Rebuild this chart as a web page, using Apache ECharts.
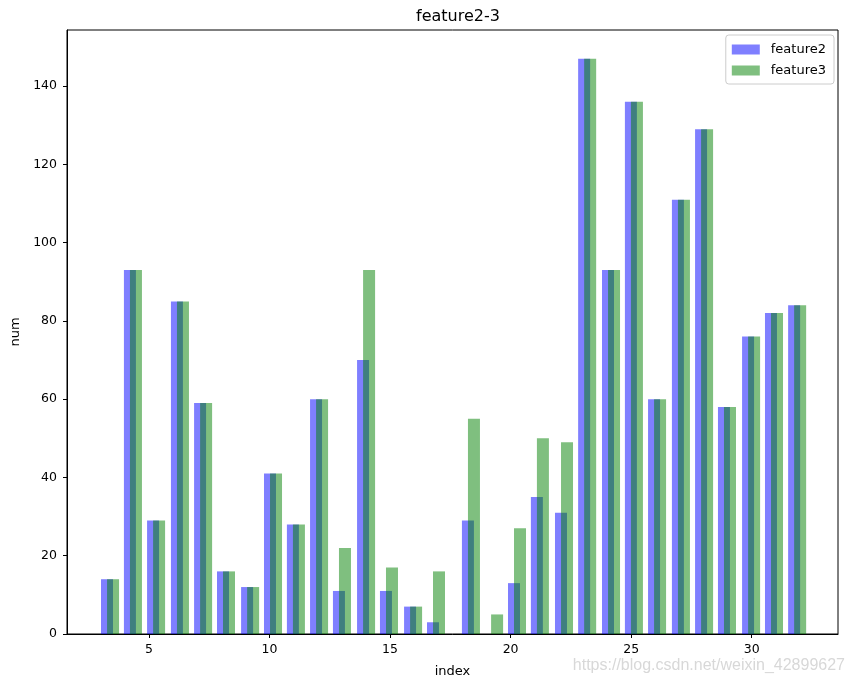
<!DOCTYPE html>
<html>
<head>
<meta charset="utf-8">
<script src="https://cdn.jsdelivr.net/npm/echarts@6/dist/echarts.min.js"></script>
<style>
html,body{margin:0;padding:0;background:#fff;}
#c{width:854px;height:687px;}
</style>
</head>
<body>
<div id="c"></div>
<script>
// index labels (row index) for each pair of bars
const indexLabels = [3,4,5,6,7,8,9,10,11,12,13,14,15,16,17,18,19,20,21,22,23,24,25,26,27,28,29,30,31,32];
// x position (data units) of each feature2 bar centre
const xPos = [3.26,4.21,5.17,6.16,7.12,8.07,9.07,10.02,10.97,11.93,12.88,13.88,14.83,15.83,16.78,18.23,19.19,20.14,21.09,22.09,23.05,24.04,24.99,25.95,26.94,27.90,28.85,29.85,30.80,31.76];
const feature2 = [14,93,29,85,59,16,12,41,28,60,11,70,11,7,3,29,0,13,35,31,147,93,136,60,111,129,58,76,82,84];
const feature3 = [14,93,29,85,59,16,12,41,28,60,22,93,17,7,16,55,5,27,50,49,147,93,136,60,111,129,58,76,82,84];
const greenShift = 0.25;
const xTicks = [5,10,15,20,25,30];
const yTicks = [0,20,40,60,80,100,120,140];

const FONT = 'DejaVu Sans';
const chart = echarts.init(document.getElementById('c'), null, {renderer:'canvas'});
const blueData = xPos.map((x,i)=>[x, feature2[i]]);
const greenData = xPos.map((x,i)=>[x+greenShift, feature3[i]]);

chart.setOption({
  animation:false,
  backgroundColor:'#fff',
  textStyle:{fontFamily:FONT},
  title:{
    text:'feature2-3', left:453, top:4, textAlign:'center',
    textStyle:{fontFamily:FONT, fontSize:16, fontWeight:'normal', color:'#000'}
  },
  legend:{
    orient:'vertical', right:20, top:35,
    itemWidth:28, itemHeight:10, itemGap:8,
    icon:'rect',
    padding:[8,8,7,6],
    borderColor:'#cccccc', borderWidth:1, borderRadius:3,
    backgroundColor:'#fff',
    textStyle:{fontFamily:FONT, fontSize:13, color:'#000', padding:[0,0,0,6]},
    data:['feature2','feature3']
  },
  grid:{left:67, right:16, top:30, bottom:53, show:true, borderColor:'#000', borderWidth:1,
        backgroundColor:'transparent', containLabel:false, outerBoundsMode:'none'},
  xAxis:{
    type:'value', min:1.6, max:33.58,
    name:'index', nameLocation:'middle', nameGap:31,
    nameTextStyle:{fontFamily:FONT, fontSize:13, color:'#000'},
    axisLine:{show:true, lineStyle:{color:'#000', width:1}},
    axisTick:{show:true, length:4, lineStyle:{color:'#000'}, customValues:xTicks},
    axisLabel:{fontFamily:FONT, fontSize:12.5, color:'#000', margin:9, customValues:xTicks},
    splitLine:{show:false}
  },
  yAxis:{
    type:'value', min:0, max:154.35,
    name:'num', nameLocation:'middle', nameGap:44,
    nameTextStyle:{fontFamily:FONT, fontSize:13, color:'#000'},
    axisLine:{show:true, lineStyle:{color:'#000', width:1}},
    axisTick:{show:true, length:4, lineStyle:{color:'#000'}, customValues:yTicks},
    axisLabel:{fontFamily:FONT, fontSize:12.5, color:'#000', margin:10, customValues:yTicks},
    splitLine:{show:false}
  },
  series:[
    {name:'feature2', type:'bar', data:blueData, barWidth:12, barGap:'-100%',
     itemStyle:{color:'rgba(0,0,255,0.5)', borderRadius:0, borderWidth:0}},
    {name:'feature3', type:'bar', data:greenData, barWidth:12, barGap:'-100%',
     itemStyle:{color:'rgba(0,128,0,0.5)', borderRadius:0, borderWidth:0}}
  ],
  graphic:[
    {type:'text', right:9, top:658,
     style:{text:'https://blog.csdn.net/weixin_42899627', font:'16px "Liberation Sans", Arial, sans-serif', fill:'#d8d8d8'}}
  ]
});
</script>
</body>
</html>
